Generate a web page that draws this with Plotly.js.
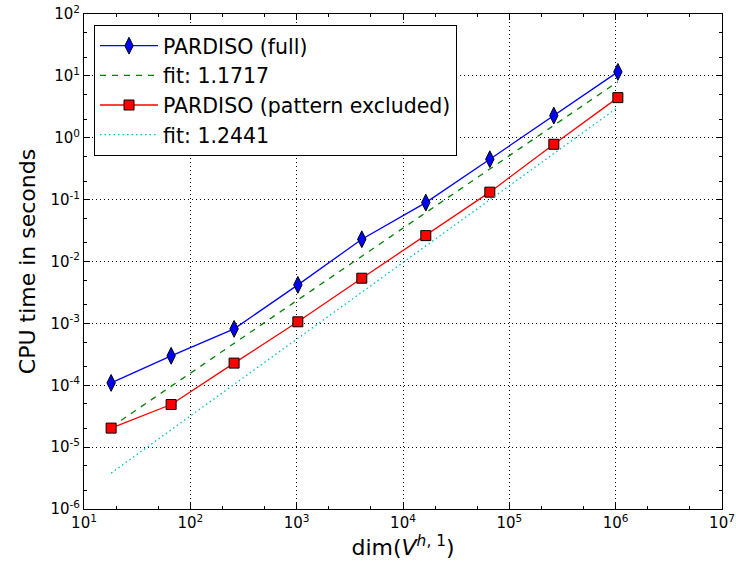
<!DOCTYPE html>
<html>
<head>
<meta charset="utf-8">
<script src="https://cdn.plot.ly/plotly-3.0.1.min.js"></script>
<style>body{margin:0;padding:0;background:#fff;}#chart{width:736px;height:570px;}</style>
</head>
<body>
<div id="chart"></div>
<script>
const dims = [18, 66, 258, 1026, 4098, 16386, 65538, 262146, 1048578];
const pardisoFull = [1.09e-4, 2.99e-4, 8.15e-4, 4.19e-3, 0.0229, 0.0895, 0.450, 2.28, 11.6];
const pardisoExcl = [2.03e-5, 4.88e-5, 2.28e-4, 1.06e-3, 5.37e-3, 0.0262, 0.132, 0.785, 4.45];
const fitFullX = [18, 1048578];
const fitFullY = [2.1e-5, 8.05];
const fitExclX = [18, 1048578];
const fitExclY = [3.8e-6, 3.1];
const xTickVals = [1e1, 1e2, 1e3, 1e4, 1e5, 1e6, 1e7];
const xTickText = ['10<sup>1</sup>','10<sup>2</sup>','10<sup>3</sup>','10<sup>4</sup>','10<sup>5</sup>','10<sup>6</sup>','10<sup>7</sup>'];
const yTickVals = [1e-6, 1e-5, 1e-4, 1e-3, 1e-2, 1e-1, 1e0, 1e1, 1e2];
const yTickText = ['10<sup>-6</sup>','10<sup>-5</sup>','10<sup>-4</sup>','10<sup>-3</sup>','10<sup>-2</sup>','10<sup>-1</sup>','10<sup>0</sup>','10<sup>1</sup>','10<sup>2</sup>'];

const font = 'DejaVu Sans, sans-serif';
const traces = [
  {x: dims, y: pardisoFull, name: 'PARDISO (full)', mode: 'lines+markers',
   line: {color: '#0000ff', width: 1.3},
   marker: {symbol: 'diamond-tall', size: 12, color: '#0000ff', line: {color: '#000', width: 1}}},
  {x: fitFullX, y: fitFullY, name: 'fit: 1.1717', mode: 'lines',
   line: {color: '#008000', width: 1.3, dash: '6px,6px'}},
  {x: dims, y: pardisoExcl, name: 'PARDISO (pattern excluded)', mode: 'lines+markers',
   line: {color: '#ff0000', width: 1.3},
   marker: {symbol: 'square', size: 10, color: '#ff0000', line: {color: '#000', width: 1}}},
  {x: fitExclX, y: fitExclY, name: 'fit: 1.2441', mode: 'lines',
   line: {color: '#00bfbf', width: 1.3, dash: '1.5px,3px'}}
];

const axisCommon = {
  type: 'log', showline: true, linecolor: '#000', linewidth: 1, mirror: 'allticks',
  ticks: 'inside', ticklen: 6, tickcolor: '#000', tickwidth: 1,
  showgrid: true, gridcolor: '#000', griddash: '1px,3px', gridwidth: 1,
  zeroline: false, tickfont: {family: font, size: 15, color: '#000'},
  minor: {ticks: 'inside', ticklen: 3, tickcolor: '#000', showgrid: false}
};

const layout = {
  width: 736, height: 570,
  margin: {l: 84, r: 14, t: 14, b: 61},
  paper_bgcolor: '#fff', plot_bgcolor: '#fff',
  showlegend: true,
  font: {family: font, color: '#000'},
  xaxis: Object.assign({}, axisCommon, {
    range: [1, 7], tickvals: xTickVals, ticktext: xTickText,
    title: {text: 'dim(<i>V</i><sup><i>h</i>, 1</sup>)', font: {family: font, size: 22}, standoff: 4}
  }),
  yaxis: Object.assign({}, axisCommon, {
    range: [-6, 2], tickvals: yTickVals, ticktext: yTickText,
    title: {text: 'CPU time in seconds', font: {family: font, size: 22}, standoff: 8}
  }),
  legend: {
    x: 0.0157, y: 0.978, xanchor: 'left', yanchor: 'top',
    bgcolor: '#fff', bordercolor: '#000', borderwidth: 1,
    font: {family: font, size: 20.5, color: '#000'},
    itemwidth: 58,
    tracegroupgap: 0
  }
};

Plotly.newPlot('chart', traces, layout, {displayModeBar: false, staticPlot: true});
</script>
</body>
</html>
